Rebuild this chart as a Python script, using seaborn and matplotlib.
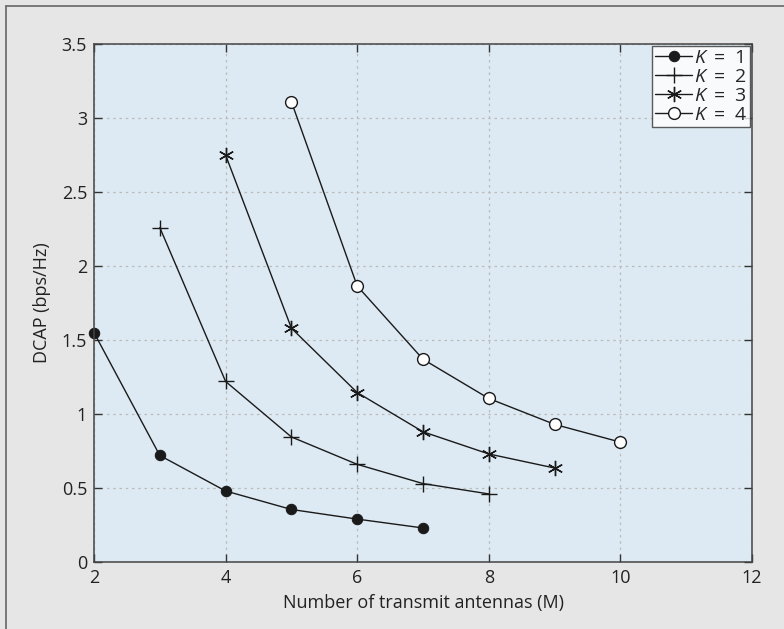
import numpy as np
import pandas as pd
import matplotlib
matplotlib.use('Agg')
import matplotlib.pyplot as plt
import seaborn as sns

k_values = [1, 2, 3, 4]
antennas = {
    1: [2, 3, 4, 5, 6, 7],
    2: [3, 4, 5, 6, 7, 8],
    3: [4, 5, 6, 7, 8, 9],
    4: [5, 6, 7, 8, 9, 10],
}
dcap = {
    1: [1.55, 0.72, 0.48, 0.355, 0.29, 0.23],
    2: [2.26, 1.22, 0.845, 0.66, 0.53, 0.46],
    3: [2.75, 1.58, 1.145, 0.88, 0.73, 0.635],
    4: [3.11, 1.865, 1.37, 1.105, 0.93, 0.81],
}
x_ticks = [2, 4, 6, 8, 10, 12]
y_ticks = [0, 0.5, 1, 1.5, 2, 2.5, 3, 3.5]
y_tick_labels = ['0', '0.5', '1', '1.5', '2', '2.5', '3', '3.5']

rows = []
for k in k_values:
    for m, v in zip(antennas[k], dcap[k]):
        rows.append({'K': k, 'M': m, 'DCAP': v})
df = pd.DataFrame(rows)

sns.set_style('ticks')
plt.rcParams['font.family'] = ['Open Sans', 'DejaVu Sans']
plt.rcParams['mathtext.fontset'] = 'custom'
plt.rcParams['mathtext.it'] = 'Open Sans:italic'
plt.rcParams['mathtext.rm'] = 'Open Sans'

fig = plt.figure(figsize=(7.84, 6.29), dpi=100, facecolor='#e6e6e7')
ax = fig.add_axes([0.1199, 0.1065, 0.8393, 0.8235])
ax.set_facecolor('#ddeaf3')

# outer frame of the figure panel
fig.add_artist(plt.Line2D([6/784, 6/784], [0, 1 - 6/629], transform=fig.transFigure, color='#666666', lw=1.2))
fig.add_artist(plt.Line2D([6/784, 1], [1 - 6/629, 1 - 6/629], transform=fig.transFigure, color='#666666', lw=1.2))

ink = '#1a1a1a'
styles = {
    1: dict(marker='o', markersize=7.5, markerfacecolor=ink, markeredgecolor=ink),
    2: dict(marker='+', markersize=12, markeredgewidth=1.0, markeredgecolor=ink),
    3: dict(marker=(6, 2, 0), markersize=11, markeredgewidth=1.0, markeredgecolor=ink),
    4: dict(marker='o', markersize=8.5, markerfacecolor='white', markeredgecolor=ink, markeredgewidth=1.0),
}

for k in k_values:
    sub = df[df['K'] == k]
    sns.lineplot(data=sub, x='M', y='DCAP', ax=ax, color=ink, linewidth=1.0,
                 label=r'$K\ =\ %d$' % k, clip_on=False, **styles[k])

ax.set_xlim(2, 12)
ax.set_ylim(0, 3.5)
ax.set_xticks(x_ticks)
ax.set_yticks(y_ticks)
ax.set_yticklabels(y_tick_labels)
ax.grid(True, color='#bbbbbb', linestyle=(0, (2, 3)), linewidth=0.9)
ax.tick_params(direction='in', length=6, width=1, color='#333333', labelsize=13,
               labelcolor='#222222', top=True, right=True, pad=5)
for s in ax.spines.values():
    s.set_color('#444444')
    s.set_linewidth(1.1)

ax.set_xlabel('Number of transmit antennas (M)', fontsize=13, color='#222222', labelpad=5)
ax.set_ylabel('DCAP (bps/Hz)', fontsize=13, color='#222222', labelpad=8)

leg = ax.legend(loc='upper right', fontsize=14, frameon=True, fancybox=False,
                handlelength=1.9, handletextpad=0.1, borderpad=0.15, labelspacing=0.05,
                borderaxespad=0.1, edgecolor='#333333')
leg.get_frame().set_facecolor('white')
leg.get_frame().set_linewidth(1.0)

fig.savefig('out.png', dpi=100, facecolor=fig.get_facecolor())
